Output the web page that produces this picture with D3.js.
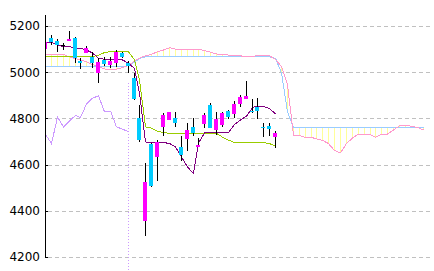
<!DOCTYPE html>
<html>
<head>
<meta charset="utf-8">
<script src="https://cdn.jsdelivr.net/npm/d3@7"></script>
<style>
body { margin: 0; background: #fff; }
svg { display: block; }
</style>
</head>
<body>
<svg id="chart" width="434" height="271"></svg>
<script>
// daily candles
var opens  = [5100,5147,5135,5118,5135,5150,5050,5084,5067,4998,5053,5031,5039,5084,5039,4976,4803,4354,4689,4632,
              4764,4793,4803,4678,4710,4761,4675,4774,4858,4750,4771,4832,4819,4862,4884,4832,4848,4763,4767,4721];
var highs  = [5134,5160,5144,5128,5180,5154,5060,5113,5089,5060,5066,5067,5096,5089,5050,4995,4858,4606,4692,4707,
              4822,4829,4829,4724,4780,4802,4715,4822,4866,4826,4826,4835,4875,4901,4962,4884,4887,4779,4781,4747];
var lows   = [5098,5118,5089,5096,5135,5038,5013,5084,5017,4952,5027,5017,5024,5060,4995,4880,4699,4292,4503,4530,
              4724,4793,4764,4617,4660,4724,4675,4757,4758,4728,4764,4796,4800,4851,4884,4822,4796,4721,4724,4671];
var closes = [5132,5132,5118,5118,5144,5060,5041,5103,5041,5045,5036,5049,5089,5064,5028,4883,4706,4526,4507,4697,
              4815,4826,4779,4642,4750,4735,4685,4815,4760,4796,4822,4807,4862,4891,4898,4829,4832,4761,4754,4738];

// conversion line (purple) and base line (green)
var tenkan = [5129,5129,5118,5111,5110,5105,5103,5096,5083,5060,5056,5056,5056,5053,5039,5016,4910,4698,4695,4695,
              4695,4692,4676,4633,4590,4561,4694,4737,4738,4738,4738,4738,4774,4793,4810,4847,4854,4852,4843,4819];
var kijun  = [5067,5067,5067,5067,5067,5067,5067,5067,5067,5074,5085,5089,5089,5089,5089,5053,4966,4763,4758,4745,
              4739,4735,4735,4735,4735,4735,4735,4735,4735,4735,4719,4706,4696,4695,4695,4695,4695,4695,4691,4681];

// leading spans, 25 periods ahead
var spanA = [5077,5077,5077,5077,5066,5059,5053,5046,5033,5023,5014,5012,5013,5020,5029,5048,5061,5071,5077,5089,
             5096,5106,5100,5100,5100,5100,5100,5093,5087,5079,5077,5074,5073,5071,5066,5069,5071,5071,5071,5055,
             5025,4945,4728,4726,4718,4718,4711,4705,4691,4661,4651,4691,4715,4732,4732,4730,4719,4732,4732,4750,
             4768,4771,4766,4761,4750];
var spanB = [5026,5026,5026,5026,5026,5026,5026,5026,5026,5026,5026,5026,5026,5026,5027,5044,5059,5067,5067,5067,
             5067,5067,5067,5067,5067,5067,5067,5067,5067,5067,5067,5067,5067,5067,5067,5067,5067,5067,5067,5060,
             4997,4828,4761,4761,4761,4761,4761,4761,4761,4761,4761,4761,4761,4761,4761,4761,4761,4761,4761,4761,
             4761,4761,4761,4761,4761];

// lagging span, 25 periods back
var chikou = [4731,4691,4806,4763,4789,4813,4804,4862,4888,4897,4829,4832,4763,4754,4742];

var yTicks = [4200,4400,4600,4800,5000,5200];
var markerIndex = 14;
var markerTop = 4955;

var width = 434, height = 271;
var svg = d3.select('#chart');

var x = d3.scaleLinear().domain([0, 65]).range([45, 428.5]);
var y = d3.scaleLinear().domain([4200, 5252]).range([257, 14]);

function px(i) { return Math.round(x(i)); }

svg.append('rect').attr('width', width).attr('height', height).attr('fill', '#fff');

// grid
svg.append('g').selectAll('line')
    .data(yTicks)
    .enter().append('line')
    .attr('x1', 48).attr('x2', 431)
    .attr('y1', function (d) { return Math.round(y(d)) + 0.5; })
    .attr('y2', function (d) { return Math.round(y(d)) + 0.5; })
    .attr('stroke', '#c0c0c0')
    .attr('stroke-dasharray', '4,3')
    .attr('shape-rendering', 'crispEdges');

svg.append('clipPath').attr('id', 'plotClip')
    .append('rect').attr('x', 45.5).attr('y', 0).attr('width', 390).attr('height', height);

var plot = svg.append('g').attr('clip-path', 'url(#plotClip)');

// cloud hatching
plot.append('g').selectAll('line')
    .data(d3.range(spanA.length))
    .enter().append('line')
    .attr('x1', function (i) { return px(i) + 0.5; })
    .attr('x2', function (i) { return px(i) + 0.5; })
    .attr('y1', function (i) { return y(spanA[i]); })
    .attr('y2', function (i) { return y(spanB[i]); })
    .attr('stroke', '#ffff99')
    .attr('shape-rendering', 'crispEdges');

var line = d3.line()
    .x(function (d, i) { return px(i) + 0.5; })
    .y(function (d) { return y(d); });

function drawLine(series, color) {
    plot.append('path').datum(series).attr('d', line)
        .attr('fill', 'none')
        .attr('stroke', color)
        .attr('stroke-width', 1)
        .attr('shape-rendering', 'crispEdges');
}

drawLine(spanB, '#99ccff');
drawLine(spanA, '#ff99cc');
drawLine(chikou, '#cc99ff');

plot.append('line')
    .attr('x1', px(markerIndex) + 0.5).attr('x2', px(markerIndex) + 0.5)
    .attr('y1', y(markerTop)).attr('y2', height)
    .attr('stroke', '#cc99ff')
    .attr('stroke-dasharray', '1,2')
    .attr('shape-rendering', 'crispEdges');

drawLine(kijun, '#99cc00');
drawLine(tenkan, '#800080');

// candles
var idx = d3.range(opens.length);
plot.append('g').selectAll('line')
    .data(idx)
    .enter().append('line')
    .attr('x1', function (i) { return px(i) + 0.5; })
    .attr('x2', function (i) { return px(i) + 0.5; })
    .attr('y1', function (i) { return Math.round(y(highs[i])); })
    .attr('y2', function (i) { return Math.round(y(lows[i])); })
    .attr('stroke', '#000')
    .attr('shape-rendering', 'crispEdges');

plot.append('g').selectAll('rect')
    .data(idx)
    .enter().append('rect')
    .attr('x', function (i) { return px(i) - 2; })
    .attr('width', 4)
    .attr('y', function (i) { return Math.round(y(Math.max(opens[i], closes[i]))); })
    .attr('height', function (i) {
        var h = Math.round(y(Math.min(opens[i], closes[i]))) - Math.round(y(Math.max(opens[i], closes[i])));
        return Math.max(1, h);
    })
    .attr('fill', function (i) {
        if (closes[i] == opens[i]) return '#000';
        return closes[i] > opens[i] ? '#ff00ff' : '#00ccff';
    })
    .attr('shape-rendering', 'crispEdges');

// y axis
var yAxis = d3.axisLeft(y)
    .tickValues(yTicks)
    .tickSize(-3)
    .tickSizeOuter(0)
    .tickPadding(5)
    .tickFormat(d3.format('d'));

var ax = svg.append('g')
    .attr('transform', 'translate(45,0)')
    .call(yAxis);
ax.attr('font-family', 'DejaVu Sans').attr('font-size', 12);
ax.selectAll('path,line').attr('stroke', '#000').attr('shape-rendering', 'crispEdges');
ax.selectAll('text').attr('fill', '#000');
</script>
</body>
</html>
